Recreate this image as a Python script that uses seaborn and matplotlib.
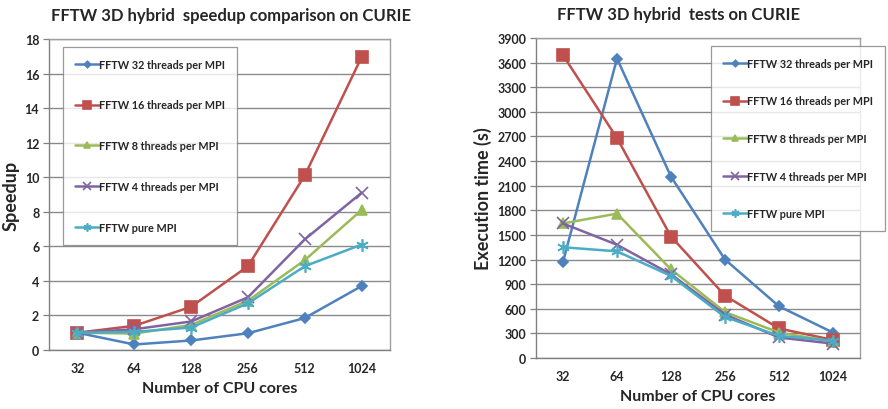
import matplotlib
matplotlib.use("Agg")
import matplotlib.pyplot as plt
import seaborn as sns
import pandas as pd

cores = ["32", "64", "128", "256", "512", "1024"]
series_names = ["FFTW 32 threads per MPI", "FFTW 16 threads per MPI",
                "FFTW 8 threads per MPI", "FFTW 4 threads per MPI", "FFTW pure MPI"]

speedup_32 = [1.0, 0.32, 0.55, 0.97, 1.85, 3.7]
speedup_16 = [1.0, 1.4, 2.5, 4.85, 10.1, 16.95]
speedup_8 = [1.0, 0.95, 1.45, 2.85, 5.2, 8.1]
speedup_4 = [1.0, 1.2, 1.65, 3.05, 6.4, 9.1]
speedup_pure = [1.0, 1.05, 1.3, 2.7, 4.85, 6.1]

time_32 = [1170, 3650, 2210, 1200, 630, 310]
time_16 = [3690, 2680, 1480, 760, 360, 220]
time_8 = [1640, 1760, 1080, 560, 310, 200]
time_4 = [1640, 1380, 1020, 530, 250, 175]
time_pure = [1350, 1300, 1000, 500, 270, 210]

colors = ["#4F81BD", "#C0504D", "#9BBB59", "#8064A2", "#4BACC6"]
markers = ["D", "s", "^", "x", (6, 2, 0)]
msizes = [5, 8, 7, 8, 9]

sns.set_theme(style="white")
plt.rcParams['font.family'] = ['Lato', 'DejaVu Sans']
plt.rcParams['font.weight'] = 'bold'

fig = plt.figure(figsize=(8.88, 4.10), dpi=100)
ax1 = fig.add_axes([49/888, 1-351/410, 341/888, 311/410])
ax2 = fig.add_axes([536/888, 1-359/410, 324/888, 320/410])

def draw(ax, data_lists, ylim, yticks, ylabel, title, title_x, leg_anchor, lspace):
    for i, (name, vals) in enumerate(zip(series_names, data_lists)):
        df = pd.DataFrame({"cores": cores, "val": vals})
        sns.lineplot(data=df, x="cores", y="val", ax=ax, color=colors[i],
                     marker=markers[i], markersize=msizes[i], linewidth=1.8,
                     markeredgecolor=colors[i], markeredgewidth=1.2,
                     label=name, sort=False)
    ax.set_xlim(-0.5, 5.5)
    ax.set_ylim(*ylim)
    ax.set_yticks(yticks)
    ax.set_xticks(range(len(cores)))
    ax.set_xticklabels(cores)
    ax.grid(axis="y", color="#8a8a8a", linewidth=1.0)
    ax.set_axisbelow(True)
    for s in ax.spines.values():
        s.set_color("#a0a0a0")
        s.set_linewidth(1.0)
    ax.spines["left"].set_color("#808080")
    ax.spines["bottom"].set_color("#808080")
    ax.tick_params(axis="x", labelsize=9, length=0, pad=9)
    ax.tick_params(axis="y", labelsize=9, length=4, width=0.9, color="#808080",
                   direction="out", left=True, pad=3)
    for lab in ax.get_xticklabels() + ax.get_yticklabels():
        lab.set_fontweight("bold")
    ax.set_xlabel("Number of CPU cores", fontsize=11.5, fontweight="bold", labelpad=5)
    ax.set_ylabel(ylabel, fontsize=13, fontweight="bold", labelpad=4)
    ax.set_title(title, fontsize=12, fontweight="bold", pad=14, x=title_x)
    leg = ax.legend(loc="upper left", bbox_to_anchor=leg_anchor, frameon=True,
                    fancybox=False, edgecolor="#808080", fontsize=7.8,
                    labelspacing=lspace, handlelength=2.2, handletextpad=0.05,
                    borderpad=1.1, borderaxespad=0, markerscale=0.65)
    leg.get_frame().set_linewidth(0.9)
    for t in leg.get_texts():
        t.set_fontweight("bold")

draw(ax1, [speedup_32, speedup_16, speedup_8, speedup_4, speedup_pure],
     (0, 18), range(0, 19, 2), "Speedup",
     "FFTW 3D hybrid  speedup comparison on CURIE", 0.534, (0.041, 0.975), 2.75)
draw(ax2, [time_32, time_16, time_8, time_4, time_pure],
     (0, 3900), range(0, 3901, 300), "Execution time (s)",
     "FFTW 3D hybrid  tests on CURIE", 0.44, (0.54, 0.975), 2.45)

fig.savefig("out.png", dpi=100)
